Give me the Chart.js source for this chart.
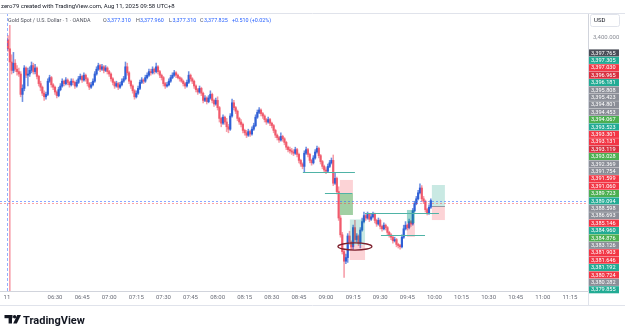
<!DOCTYPE html>
<html>
<head>
<meta charset="utf-8">
<script src="https://cdn.jsdelivr.net/npm/chart.js@4.4.1/dist/chart.umd.min.js"></script>
<style>
html, body { margin: 0; padding: 0; background: #fff; }
canvas { display: block; }
</style>
</head>
<body>
<canvas id="chart" width="625" height="334"></canvas>
<script>
// XAU/USD 1-minute bars, x = minutes after 06:00 (UTC+8), first bar 06:04
const firstBarMinute = 4;
const firstOpen = 3399.85;

const closes = [
  3399.10, 3398.00, 3397.30, 3397.90, 3397.40, 3397.20, 3397.00, 3395.30, 3395.80, 3397.50,
  3396.90, 3397.00, 3397.30, 3397.70, 3397.20, 3397.50, 3396.80, 3396.20, 3395.90, 3395.40,
  3395.10, 3395.30, 3396.40, 3396.70, 3396.10, 3395.90, 3395.50, 3395.20, 3395.70, 3396.00,
  3396.40, 3396.20, 3396.50, 3396.30, 3396.10, 3396.40, 3396.30, 3396.00, 3396.30, 3396.60,
  3396.80, 3396.50, 3396.90, 3396.60, 3396.20, 3395.90, 3396.10, 3396.40, 3397.00, 3397.40,
  3397.70, 3397.40, 3397.60, 3397.30, 3397.50, 3397.20, 3397.00, 3396.60, 3396.30, 3396.00,
  3396.20, 3395.90, 3396.10, 3396.40, 3396.60, 3397.60, 3397.10, 3396.40, 3396.00, 3395.60,
  3395.10, 3395.40, 3395.80, 3396.30, 3396.50, 3396.40, 3396.70, 3396.90, 3397.20, 3397.10,
  3397.40, 3397.20, 3397.60, 3397.20, 3396.90, 3396.70, 3396.20, 3396.00, 3396.10, 3396.40,
  3396.70, 3396.90, 3397.10, 3396.90, 3396.70, 3396.60, 3396.40, 3396.20, 3396.00, 3396.30,
  3396.90, 3396.60, 3396.40, 3396.00, 3395.70, 3395.50, 3395.80, 3395.40, 3394.80, 3395.00,
  3394.70, 3395.00, 3395.30, 3394.80, 3394.50, 3394.80, 3394.20, 3393.30, 3392.90, 3393.40,
  3393.00, 3392.60, 3392.40, 3393.50, 3394.60, 3394.20, 3393.90, 3393.30, 3393.00, 3392.80,
  3392.30, 3392.10, 3391.90, 3392.20, 3392.00, 3392.40, 3392.70, 3393.40, 3393.80, 3394.00,
  3393.70, 3393.50, 3393.20, 3393.00, 3393.20, 3392.90, 3392.70, 3392.30, 3391.90, 3391.70,
  3391.50, 3391.80, 3391.60, 3391.30, 3390.90, 3390.70, 3390.60, 3390.50, 3390.40, 3390.70,
  3390.30, 3389.80, 3389.50, 3389.30, 3390.40, 3390.70, 3390.30, 3389.80, 3389.60, 3390.00,
  3390.50, 3390.80, 3390.20, 3389.70, 3389.30, 3389.00, 3388.90, 3389.30, 3389.60, 3389.80,
  3387.90, 3388.30, 3387.20, 3385.00, 3383.60, 3382.20, 3381.40, 3381.70, 3383.50, 3383.00,
  3382.60, 3384.20, 3383.20, 3383.50, 3382.90, 3384.00, 3384.70, 3385.20, 3385.00, 3385.30,
  3384.90, 3385.10, 3385.30, 3384.80, 3384.50, 3384.80, 3384.30, 3384.10, 3384.40, 3384.20,
  3383.80, 3383.60, 3383.40, 3383.10, 3383.20, 3382.80, 3382.70, 3382.60, 3383.40, 3384.10,
  3384.40, 3384.20, 3384.70, 3384.50, 3385.60, 3386.20, 3386.60, 3387.10, 3387.50, 3386.60,
  3386.40, 3385.70, 3385.40, 3385.90, 3386.45
];

const highs = [
  3400.20, 3401.05, 3398.60, 3398.80, 3398.20, 3397.70, 3397.50, 3397.20, 3396.10, 3397.70,
  3397.60, 3397.50, 3397.60, 3398.00, 3397.90, 3397.80, 3397.60, 3396.90, 3396.40, 3396.00,
  3395.60, 3395.50, 3396.60, 3396.90, 3396.80, 3396.20, 3396.00, 3395.60, 3395.90, 3396.20,
  3396.60, 3396.50, 3396.70, 3396.60, 3396.40, 3396.60, 3396.60, 3396.40, 3396.50, 3396.80,
  3397.00, 3396.90, 3397.10, 3397.00, 3396.70, 3396.30, 3396.30, 3396.60, 3397.20, 3397.60,
  3397.90, 3397.80, 3397.80, 3397.70, 3397.70, 3397.60, 3397.30, 3397.10, 3396.70, 3396.40,
  3396.40, 3396.30, 3396.30, 3396.60, 3396.80, 3398.00, 3397.90, 3397.20, 3396.50, 3396.10,
  3395.70, 3395.60, 3396.00, 3396.50, 3396.70, 3396.60, 3396.90, 3397.10, 3397.40, 3397.40,
  3397.60, 3397.50, 3397.90, 3397.70, 3397.30, 3397.00, 3396.80, 3396.30, 3396.30, 3396.60,
  3396.90, 3397.10, 3397.30, 3397.20, 3397.00, 3396.80, 3396.70, 3396.50, 3396.30, 3396.50,
  3397.20, 3397.00, 3396.70, 3396.50, 3396.10, 3395.80, 3396.00, 3395.90, 3395.50, 3395.20,
  3395.10, 3395.20, 3395.60, 3395.40, 3394.90, 3395.00, 3395.10, 3394.30, 3393.40, 3393.60,
  3393.50, 3393.30, 3392.80, 3393.70, 3394.90, 3394.80, 3394.30, 3394.00, 3393.40, 3393.20,
  3392.90, 3392.40, 3392.30, 3392.40, 3392.30, 3392.60, 3392.90, 3393.60, 3394.00, 3394.20,
  3394.10, 3393.80, 3393.60, 3393.30, 3393.40, 3393.30, 3393.00, 3392.80, 3392.40, 3392.00,
  3391.80, 3392.10, 3391.90, 3391.70, 3391.40, 3391.00, 3390.90, 3390.80, 3390.70, 3390.90,
  3390.80, 3390.40, 3389.90, 3389.60, 3390.60, 3390.90, 3390.80, 3390.40, 3389.90, 3390.20,
  3390.70, 3391.00, 3390.90, 3390.30, 3389.80, 3389.40, 3389.20, 3389.50, 3389.80, 3390.00,
  3390.25, 3388.75, 3388.40, 3387.60, 3385.20, 3383.80, 3382.40, 3382.00, 3383.70, 3383.90,
  3383.10, 3384.40, 3384.80, 3383.70, 3383.60, 3384.20, 3385.00, 3385.50, 3385.30, 3385.50,
  3385.40, 3385.30, 3385.50, 3385.40, 3384.90, 3385.00, 3384.90, 3384.40, 3384.60, 3384.50,
  3384.30, 3383.90, 3383.70, 3383.50, 3383.40, 3383.30, 3382.90, 3382.80, 3383.60, 3384.40,
  3384.70, 3384.50, 3384.90, 3384.80, 3385.80, 3386.40, 3386.80, 3387.30, 3387.85, 3387.70,
  3386.80, 3386.50, 3385.80, 3386.10, 3386.60
];

const lows = [
  3398.90, 3378.50, 3397.00, 3397.10, 3397.20, 3396.90, 3396.80, 3395.10, 3394.70, 3395.60,
  3396.70, 3396.00, 3396.80, 3397.10, 3397.00, 3397.00, 3396.60, 3396.00, 3395.60, 3395.20,
  3394.80, 3394.90, 3395.20, 3396.30, 3395.90, 3395.70, 3395.30, 3395.00, 3395.10, 3395.60,
  3395.90, 3396.00, 3396.10, 3396.10, 3395.90, 3396.00, 3396.10, 3395.80, 3395.90, 3396.20,
  3396.50, 3396.30, 3396.40, 3396.40, 3396.00, 3395.70, 3395.80, 3396.00, 3396.30, 3396.90,
  3397.30, 3397.20, 3397.30, 3397.10, 3397.20, 3397.00, 3396.80, 3396.40, 3396.10, 3395.80,
  3395.90, 3395.70, 3395.80, 3396.00, 3396.30, 3396.50, 3396.90, 3396.20, 3395.80, 3395.40,
  3394.90, 3395.00, 3395.30, 3395.70, 3396.20, 3396.20, 3396.30, 3396.60, 3396.80, 3396.90,
  3397.00, 3397.00, 3397.10, 3397.00, 3396.70, 3396.50, 3396.00, 3395.80, 3395.90, 3396.00,
  3396.30, 3396.60, 3396.80, 3396.70, 3396.60, 3396.40, 3396.30, 3396.00, 3395.80, 3395.90,
  3396.20, 3396.40, 3396.20, 3395.80, 3395.50, 3395.30, 3395.40, 3395.20, 3394.60, 3394.70,
  3394.50, 3394.60, 3394.90, 3394.60, 3394.30, 3394.40, 3394.00, 3393.00, 3392.60, 3392.80,
  3392.80, 3392.20, 3392.10, 3392.30, 3393.40, 3394.00, 3393.70, 3393.10, 3392.80, 3392.60,
  3392.10, 3391.90, 3391.70, 3391.80, 3391.80, 3391.90, 3392.30, 3392.60, 3393.30, 3393.70,
  3393.50, 3393.30, 3393.00, 3392.80, 3392.90, 3392.70, 3392.50, 3392.10, 3391.70, 3391.50,
  3391.30, 3391.40, 3391.40, 3391.10, 3390.70, 3390.50, 3390.40, 3390.30, 3390.20, 3390.30,
  3390.10, 3389.60, 3389.30, 3389.10, 3388.80, 3390.30, 3390.10, 3389.60, 3389.40, 3389.50,
  3389.90, 3390.40, 3390.00, 3389.50, 3389.10, 3388.80, 3388.70, 3388.80, 3389.20, 3389.50,
  3387.70, 3387.80, 3387.00, 3384.80, 3383.40, 3382.00, 3380.05, 3381.20, 3381.30, 3382.80,
  3382.40, 3382.40, 3383.00, 3383.00, 3382.70, 3382.50, 3383.90, 3384.60, 3384.80, 3384.90,
  3384.70, 3384.80, 3385.00, 3384.60, 3384.30, 3384.40, 3384.10, 3383.90, 3384.00, 3384.00,
  3383.60, 3383.40, 3383.20, 3382.90, 3383.00, 3382.60, 3382.50, 3382.40, 3382.50, 3383.30,
  3384.00, 3384.00, 3384.10, 3384.30, 3384.40, 3385.50, 3386.10, 3386.50, 3387.00, 3386.40,
  3386.20, 3385.50, 3385.25, 3385.30, 3385.80
];

// time axis
const tickMinutes = [3.4, 30, 45, 60, 75, 90, 105, 120, 135, 150, 165, 180, 195, 210, 225, 240, 255, 270, 285, 300, 315];
const tickLabels = ['11', '06:30', '06:45', '07:00', '07:15', '07:30', '07:45', '08:00', '08:15', '08:30',
  '08:45', '09:00', '09:15', '09:30', '09:45', '10:00', '10:15', '10:30', '10:45', '11:00', '11:15'];

// stacked price-scale labels (top to bottom) and their badge colours
const scaleLabelPrices = [
  3397.765, 3397.305, 3397.030, 3396.965, 3396.181, 3395.808, 3395.423, 3394.801, 3394.453, 3394.067,
  3393.523, 3393.301, 3393.131, 3393.119, 3393.028, 3392.369, 3391.754, 3391.599, 3391.060, 3389.723,
  3389.094, 3388.598, 3386.693, 3385.146, 3384.960, 3384.876, 3383.126, 3381.903, 3381.646, 3381.192,
  3380.724, 3380.282, 3379.855
];
const scaleLabelKinds = [
  'dark', 'teal', 'red', 'red2', 'teal', 'gray', 'gray', 'gray', 'gray', 'green',
  'teal', 'red', 'red', 'red2', 'green', 'gray', 'gray', 'red', 'red', 'green',
  'teal', 'gray', 'gray', 'red', 'teal', 'green', 'gray', 'red', 'red', 'teal',
  'red', 'gray', 'teal'
];

// drawings: horizontal segments [fromMinute, toMinute, price]
const hLines = [
  [167.2, 196.0, 3388.83],
  [179.4, 194.4, 3387.08],
  [201.6, 242.5, 3385.42],
  [210.4, 234.8, 3383.58]
];
// position tools: [fromMinute, toMinute, target, entry, stop]
const positions = [
  [187.7, 194.9, 3385.25, 3387.08, 3388.17],
  [193.2, 201.6, 3384.88, 3382.75, 3381.50],
  [224.8, 229.2, 3385.67, 3384.58, 3383.42],
  [238.6, 245.8, 3387.75, 3385.96, 3384.83]
];
const ellipseBox = [186.6, 205.4, 3382.92, 3382.33];
const bidPrice = 3386.44;
const askPrice = 3386.23;
const sessionStart = 3.43;

const upColor = '#2f5fd6';
const downColor = '#f05a6c';
const badge = { dark: '#4a4d57', teal: '#22ab94', red: '#f23645', red2: '#d8303f', gray: '#8b8e97', green: '#4caf50' };
const fmt = v => v.toLocaleString('en-US', { minimumFractionDigits: 3, maximumFractionDigits: 3 });

const opens = closes.map((c, i) => i === 0 ? firstOpen : closes[i - 1]);
const barX = closes.map((c, i) => firstBarMinute + i);
const up = closes.map((c, i) => c >= opens[i]);

const overlay = {
  id: 'overlay',
  afterDatasetsDraw(chart) {
    const { ctx, chartArea: a, scales: { x, y } } = chart;
    ctx.save();
    ctx.beginPath();
    ctx.rect(a.left, a.top, a.right - a.left, a.bottom - a.top);
    ctx.clip();

    // session break
    ctx.strokeStyle = 'rgba(41,98,255,0.5)';
    ctx.lineWidth = 1;
    ctx.setLineDash([3, 2]);
    const sx = Math.round(x.getPixelForValue(sessionStart)) + 0.5;
    ctx.beginPath(); ctx.moveTo(sx, a.top); ctx.lineTo(sx, a.bottom); ctx.stroke();
    ctx.setLineDash([]);

    // position tools
    positions.forEach((p, i) => {
      const x0 = x.getPixelForValue(p[0]), x1 = x.getPixelForValue(p[1]);
      const yt = y.getPixelForValue(p[2]), ye = y.getPixelForValue(p[3]), ys = y.getPixelForValue(p[4]);
      let win = 'rgba(8,153,129,0.22)';
      if (i === 0) win = 'rgba(67,160,71,0.5)';
      if (i === 2) win = 'rgba(8,153,129,0.4)';
      ctx.fillStyle = win;
      ctx.fillRect(x0, Math.min(yt, ye), x1 - x0, Math.abs(ye - yt));
      ctx.fillStyle = 'rgba(242,54,69,0.22)';
      ctx.fillRect(x0, Math.min(ys, ye), x1 - x0, Math.abs(ye - ys));
      if (i === 3) {
        ctx.strokeStyle = '#9598a1';
        ctx.beginPath(); ctx.moveTo(x0, Math.round(ye) + 0.5); ctx.lineTo(x1, Math.round(ye) + 0.5); ctx.stroke();
      }
    });

    // horizontal segments
    ctx.strokeStyle = '#4fb3a6';
    ctx.lineWidth = 1;
    hLines.forEach(l => {
      const yy = Math.round(y.getPixelForValue(l[2])) + 0.5;
      ctx.beginPath();
      ctx.moveTo(x.getPixelForValue(l[0]), yy);
      ctx.lineTo(x.getPixelForValue(l[1]), yy);
      ctx.stroke();
    });

    // ellipse
    const ex0 = x.getPixelForValue(ellipseBox[0]), ex1 = x.getPixelForValue(ellipseBox[1]);
    const ey0 = y.getPixelForValue(ellipseBox[2]), ey1 = y.getPixelForValue(ellipseBox[3]);
    ctx.strokeStyle = '#7d1f2c';
    ctx.lineWidth = 1.3;
    ctx.beginPath();
    ctx.ellipse((ex0 + ex1) / 2, (ey0 + ey1) / 2, (ex1 - ex0) / 2, (ey1 - ey0) / 2, 0, 0, Math.PI * 2);
    ctx.stroke();

    // bid / ask lines
    ctx.lineWidth = 1;
    ctx.setLineDash([2, 2]);
    [[bidPrice, 'rgba(41,98,255,0.55)'], [askPrice, 'rgba(242,54,69,0.45)']].forEach(([p, c]) => {
      const yy = Math.round(y.getPixelForValue(p)) + 0.5;
      ctx.strokeStyle = c;
      ctx.beginPath(); ctx.moveTo(a.left, yy); ctx.lineTo(a.right, yy); ctx.stroke();
    });
    ctx.restore();
  },
  afterDraw(chart) {
    const { ctx, chartArea: a } = chart;
    ctx.save();
    // frame lines
    ctx.strokeStyle = '#e0e3eb';
    ctx.lineWidth = 1;
    ctx.beginPath();
    ctx.moveTo(0, 13.5); ctx.lineTo(625, 13.5);
    ctx.moveTo(0, 305.5); ctx.lineTo(625, 305.5);
    ctx.moveTo(a.right + 0.5, a.bottom); ctx.lineTo(a.right + 0.5, 305);
    ctx.stroke();

    // stacked price badges
    const top0 = 49.4, step = 7.4;
    ctx.font = '5.6px Roboto';
    ctx.textBaseline = 'middle';
    ctx.textAlign = 'left';
    scaleLabelPrices.forEach((p, i) => {
      const yy = top0 + i * step;
      ctx.fillStyle = badge[scaleLabelKinds[i]];
      ctx.fillRect(589, yy, 30, step - 0.3);
      ctx.fillStyle = '#ffffff';
      ctx.fillText(fmt(p), 591, yy + step / 2);
    });

    // currency box
    ctx.strokeStyle = '#e0e3eb';
    ctx.beginPath();
    ctx.roundRect(590.5, 14.5, 29, 12, 2);
    ctx.stroke();
    ctx.fillStyle = '#131722';
    ctx.font = '6px Roboto';
    ctx.fillText('USD', 594, 20.5);

    // header
    ctx.fillStyle = '#131722';
    ctx.font = '6px Roboto';
    ctx.fillText('zero79 created with TradingView.com, Aug 11, 2025 09:58 UTC+8', 1, 6.5);
    const legend = [
      ['Gold Spot / U.S. Dollar \u00b7 1 \u00b7 OANDA', 8, '#50535e'],
      ['O', 103, '#50535e'], ['3,377.310', 107, '#2962ff'],
      ['H', 136, '#50535e'], ['3,377.960', 140, '#2962ff'],
      ['L', 169, '#50535e'], ['3,377.310', 172.5, '#2962ff'],
      ['C', 200, '#50535e'], ['3,377.825', 204, '#2962ff'],
      ['+0.510 (+0.02%)', 232, '#2962ff']
    ];
    ctx.font = '5.4px Roboto';
    legend.forEach(([t, lx, c]) => { ctx.fillStyle = c; ctx.fillText(t, lx, 20.5); });

    // logo
    ctx.fillStyle = '#131722';
    ctx.fillRect(4.5, 315, 8, 3.2);
    ctx.fillRect(8.6, 315, 3.4, 8.5);
    ctx.beginPath(); ctx.arc(14.6, 316.7, 1.7, 0, Math.PI * 2); ctx.fill();
    ctx.beginPath();
    ctx.moveTo(17.2, 315); ctx.lineTo(21, 315); ctx.lineTo(16.8, 323.5); ctx.lineTo(13.2, 323.5);
    ctx.closePath(); ctx.fill();
    ctx.font = 'bold 11px Roboto';
    ctx.textBaseline = 'alphabetic';
    ctx.fillText('TradingView', 23, 323.5);
    ctx.restore();
  }
};

new Chart(document.getElementById('chart'), {
  type: 'bar',
  data: {
    datasets: [
      {
        label: 'bodies',
        data: barX.map((m, i) => ({ x: m, y: [opens[i], closes[i]] })),
        backgroundColor: up.map(u => u ? upColor : downColor),
        barThickness: 1.5,
        grouped: false,
        order: 1
      },
      {
        label: 'wicks',
        data: barX.map((m, i) => ({ x: m, y: [lows[i], highs[i]] })),
        backgroundColor: up.map(u => u ? 'rgba(47,95,214,0.7)' : 'rgba(240,90,108,0.6)'),
        barThickness: 0.9,
        grouped: false,
        order: 2
      }
    ]
  },
  options: {
    responsive: false,
    animation: false,
    devicePixelRatio: 1,
    layout: { padding: { top: 13, bottom: 29, left: 0, right: 0 } },
    plugins: { legend: { display: false }, tooltip: { enabled: false } },
    scales: {
      x: {
        type: 'linear',
        min: -0.44,
        max: 325,
        offset: false,
        grid: { display: false, drawTicks: false },
        border: { color: '#d1d4dc' },
        afterBuildTicks: s => { s.ticks = tickMinutes.map(v => ({ value: v })); },
        afterFit: s => { s.height = 14; },
        ticks: {
          autoSkip: false,
          maxRotation: 0,
          padding: 3,
          color: '#6a6d78',
          font: { family: 'Roboto', size: 6 },
          callback: (v, i) => tickLabels[i]
        }
      },
      y: {
        position: 'right',
        min: 3378.917,
        max: 3402.083,
        grid: { display: false, drawTicks: false },
        border: { color: '#d1d4dc' },
        afterBuildTicks: s => { s.ticks = [{ value: 3400 }]; },
        afterFit: s => { s.width = 37; },
        ticks: {
          padding: 5,
          color: '#8a8d96',
          font: { family: 'Roboto', size: 6 },
          callback: v => fmt(v)
        }
      }
    }
  },
  plugins: [overlay]
});
</script>
</body>
</html>
